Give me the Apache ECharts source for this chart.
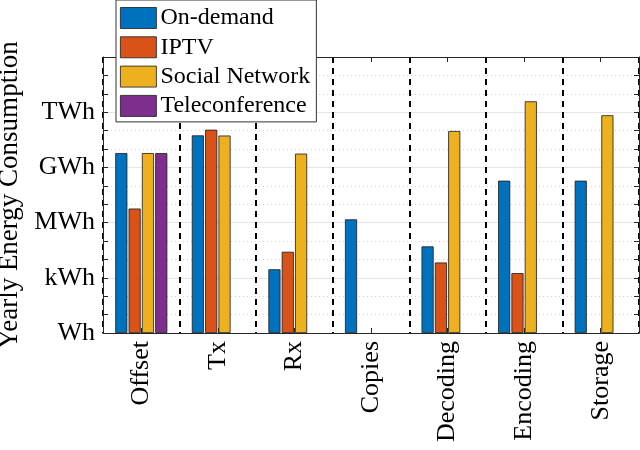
<!DOCTYPE html>
<html>
<head>
<meta charset="utf-8">
<script src="https://cdn.jsdelivr.net/npm/echarts@6/dist/echarts.min.js"></script>
<style>
  html, body { margin: 0; padding: 0; background: #fff; }
  #chart { width: 640px; height: 450px; }
</style>
</head>
<body>
<div id="chart"></div>
<script>
// stages along the x axis
var categories = ['Offset', 'Tx', 'Rx', 'Copies', 'Decoding', 'Encoding', 'Storage'];
// yearly energy in Wh, read off the log scale (null = no bar)
var onDemand      = [6.0e9, 5.5e10, 2.9e3, 1.5e6, 5.1e4, 1.9e8, 1.9e8];
var iptv          = [5.8e6, 1.12e11, 2.6e4, null, 6.8e3, 1.8e3, null];
var socialNetwork = [6.0e9, 5.4e10, 5.6e9, null, 9.5e10, 3.9e12, 6.8e11];
var teleconf      = [6.0e9, null, null, null, null, null, null];
// labels for every third decade
var yTickLabels = ['Wh', 'kWh', 'MWh', 'GWh', 'TWh'];

var font = 'Liberation Serif';
var colors = ['#0072BD', '#D95319', '#EDB120', '#7E2F8E'];

var chart = echarts.init(document.getElementById('chart'));

function bar(name, data) {
	return {
		name: name,
		type: 'bar',
		data: data,
		barGap: '10%',
		barCategoryGap: '32%',
		itemStyle: { borderColor: '#1a1a1a', borderWidth: 0.8 }
	};
}

chart.setOption({
	animation: false,
	color: colors,
	textStyle: { fontFamily: font },
	grid: { left: 103, right: 1, top: 57, bottom: 117, outerBoundsMode: 'none', containLabel: false },
	legend: {
		orient: 'vertical',
		left: 116,
		top: 0,
		padding: [6, 6, 4, 4],
		itemWidth: 36,
		itemHeight: 21,
		itemGap: 5.3,
		backgroundColor: '#fff',
		borderColor: '#333',
		borderWidth: 1,
		z: 10,
		icon: 'rect',
		itemStyle: { borderColor: '#1a1a1a', borderWidth: 0.8 },
		textStyle: { fontFamily: font, fontSize: 24, color: '#000', padding: [0, 0, 0, -1] },
		data: ['On-demand', 'IPTV', 'Social Network', 'Teleconference']
	},
	xAxis: [{
		type: 'category',
		data: categories,
		axisLine: { lineStyle: { color: '#262626', width: 1 } },
		axisTick: { show: true, inside: true, alignWithLabel: true, length: 5, lineStyle: { color: '#262626' } },
		axisLabel: { rotate: 90, fontFamily: font, fontSize: 26, color: '#000', margin: 8 },
		splitLine: { show: true, lineStyle: { color: '#000', width: 2, type: [6, 5] } }
	}, {
		type: 'category',
		data: categories,
		position: 'top',
		axisLine: { lineStyle: { color: '#262626', width: 1 } },
		axisTick: { show: true, inside: true, alignWithLabel: true, length: 5, lineStyle: { color: '#262626' } },
		axisLabel: { show: false },
		splitLine: { show: false }
	}],
	yAxis: [{
		type: 'log',
		logBase: 10,
		min: 1,
		max: 1e15,
		interval: 1,
		name: 'Yearly Energy Consumption',
		nameLocation: 'middle',
		nameGap: 76,
		nameTextStyle: { fontFamily: font, fontSize: 27, color: '#000' },
		axisLine: { show: true, lineStyle: { color: '#262626', width: 1 } },
		axisTick: { show: true, inside: true, length: 5, lineStyle: { color: '#262626' } },
		axisLabel: {
			fontFamily: font, fontSize: 26, color: '#000', margin: 8,
			formatter: function (v) {
				var e = Math.round(Math.log10(v));
				return e % 3 === 0 ? (yTickLabels[e / 3] || '') : '';
			}
		},
		splitLine: { show: true, lineStyle: { color: '#d0d0d0', width: 1, type: [1, 3] } }
	}, {
		type: 'log',
		logBase: 10,
		min: 1,
		max: 1e15,
		interval: 3,
		position: 'left',
		axisLine: { show: false },
		axisTick: { show: false },
		axisLabel: { show: false },
		splitLine: { show: true, lineStyle: { color: '#e6e6e6', width: 1 } }
	}, {
		type: 'log',
		logBase: 10,
		min: 1,
		max: 1e15,
		interval: 1,
		position: 'right',
		axisLine: { show: true, lineStyle: { color: '#262626', width: 1 } },
		axisTick: { show: true, inside: true, length: 5, lineStyle: { color: '#262626' } },
		axisLabel: { show: false },
		splitLine: { show: false }
	}],
	series: [
		bar('On-demand', onDemand),
		bar('IPTV', iptv),
		bar('Social Network', socialNetwork),
		bar('Teleconference', teleconf)
	]
});
</script>
</body>
</html>
